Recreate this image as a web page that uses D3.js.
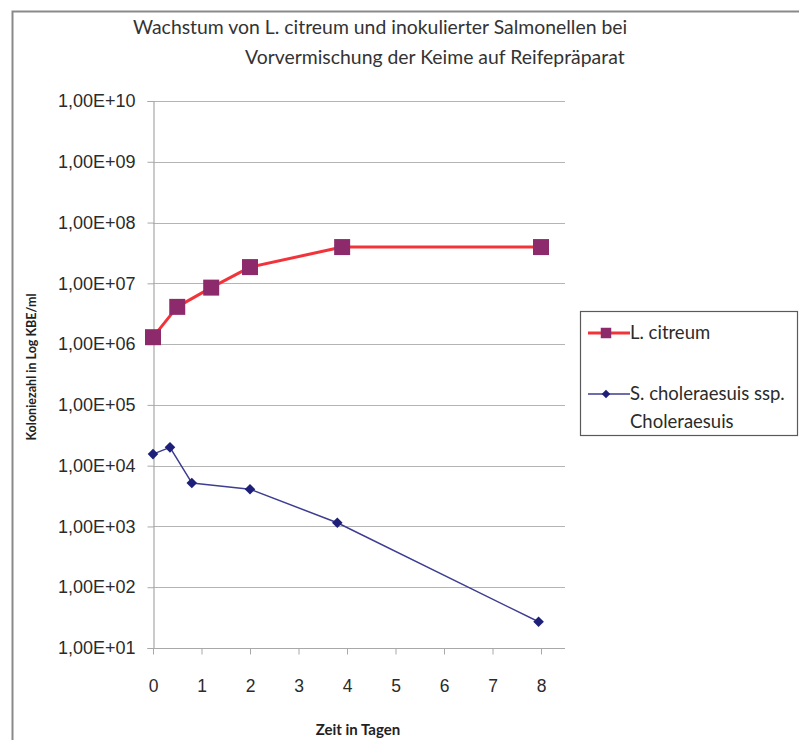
<!DOCTYPE html>
<html>
<head>
<meta charset="utf-8">
<script src="https://cdn.jsdelivr.net/npm/d3@7"></script>
<style>
  html, body { margin: 0; padding: 0; background: #fff; }
  svg { display: block; font-family: Lato, "Open Sans", sans-serif; }
</style>
</head>
<body>
<svg id="chart" width="799" height="740"></svg>
<script>
// data
const titleLines = [
    'Wachstum von L. citreum und inokulierter Salmonellen bei',
    'Vorvermischung der Keime auf Reifepräparat'
];
const citreumDays = [0, 0.5, 1.2, 2, 3.9, 8];
const citreumCfu = [1.3e6, 4.1e6, 8.5e6, 1.85e7, 3.95e7, 3.95e7];
const salmonellaDays = [0, 0.35, 0.8, 2, 3.8, 7.95];
const salmonellaCfu = [1.55e4, 2.0e4, 5.2e3, 4.1e3, 1.15e3, 27];
const xTicks = [0, 1, 2, 3, 4, 5, 6, 7, 8];
const yTicks = [1e1, 1e2, 1e3, 1e4, 1e5, 1e6, 1e7, 1e8, 1e9, 1e10];

const series = [
    { name: ['L. citreum'], days: citreumDays, values: citreumCfu,
      line: '#f2343a', lineWidth: 3, marker: 'square', fill: '#8c2a6c' },
    { name: ['S. choleraesuis ssp.', 'Choleraesuis'], days: salmonellaDays, values: salmonellaCfu,
      line: '#3d3d91', lineWidth: 1.5, marker: 'diamond', fill: '#1d1f78' }
];

const plot = { left: 153, right: 565, top: 101, bottom: 648 };
const svg = d3.select('#chart');

// outer frame (cut off at right/bottom like the screenshot)
svg.append('path')
    .attr('d', 'M12.5,740 V11.5 H799')
    .attr('fill', 'none')
    .attr('stroke', '#8a8a8a')
    .attr('stroke-width', 2);

const x = d3.scaleLinear().domain([0, 8]).range([plot.left, 541]);
const y = d3.scaleLog().domain([1e1, 1e10]).range([plot.bottom, plot.top]);

const fmt = v => `1,00E+${String(Math.round(Math.log10(v))).padStart(2, '0')}`;

// gridlines
svg.append('g')
    .selectAll('line')
    .data(yTicks.slice(1))
    .join('line')
    .attr('x1', plot.left)
    .attr('x2', plot.right)
    .attr('y1', d => Math.round(y(d)) + 0.5)
    .attr('y2', d => Math.round(y(d)) + 0.5)
    .attr('stroke', '#b4b4b4')
    .attr('stroke-width', 1.2);

const yAxe = d3.axisLeft(y)
    .tickValues(yTicks)
    .tickFormat(fmt)
    .tickSize(6)
    .tickPadding(12);

const gy = svg.append('g')
    .attr('transform', `translate(${plot.left + 0.5},0)`)
    .call(yAxe);
gy.select('.domain').attr('stroke', '#a8a8a8').attr('stroke-width', 1.2);
gy.selectAll('.tick line').attr('stroke', '#a8a8a8');
gy.selectAll('.tick text')
    .attr('fill', '#2b2b2b')
    .style('font-size', '18px');

const xAxe = d3.axisBottom(x)
    .tickValues(xTicks)
    .tickFormat(d3.format('d'))
    .tickSize(6)
    .tickPadding(25);

const gx = svg.append('g')
    .attr('transform', `translate(0,${plot.bottom + 0.5})`)
    .call(xAxe);
gx.select('.domain')
    .attr('d', `M${plot.left},0H${plot.right}`)
    .attr('stroke', '#a8a8a8')
    .attr('stroke-width', 1.2);
gx.selectAll('.tick line').attr('stroke', '#a8a8a8');
gx.selectAll('.tick text')
    .attr('fill', '#2b2b2b')
    .style('font-size', '17.5px');

// series
const line = d3.line()
    .x(d => x(d[0]))
    .y(d => y(d[1]));

// diamond = square turned by 45deg, close to the spreadsheet marker
const markerPath = (size) => d3.symbol(d3.symbolSquare, size)();
const markerTurn = type => type === 'square' ? '' : ' rotate(45)';

series.forEach(s => {
    const pts = d3.zip(s.days, s.values);
    svg.append('path')
        .datum(pts)
        .attr('d', line)
        .attr('fill', 'none')
        .attr('stroke', s.line)
        .attr('stroke-width', s.lineWidth)
        .attr('stroke-linejoin', 'round');

    svg.append('g')
        .selectAll('path')
        .data(pts)
        .join('path')
        .attr('d', markerPath(s.marker === 'square' ? 256 : 56))
        .attr('transform', d => `translate(${x(d[0])},${y(d[1])})${markerTurn(s.marker)}`)
        .attr('fill', s.fill);
});

// title
svg.append('g')
    .selectAll('text')
    .data(titleLines)
    .join('text')
    .attr('x', (d, i) => i === 0 ? 133 : 245)
    .attr('y', (d, i) => 34 + i * 30)
    .attr('fill', '#333')
    .style('font-size', '19.4px')
    .text(d => d);

// axis titles
svg.append('text')
    .attr('transform', 'translate(36,367) rotate(-90)')
    .attr('text-anchor', 'middle')
    .attr('fill', '#222')
    .style('font-size', '12.5px')
    .style('font-weight', 'bold')
    .text('Koloniezahl in  Log KBE/ml');

svg.append('text')
    .attr('x', 358)
    .attr('y', 735)
    .attr('text-anchor', 'middle')
    .attr('fill', '#222')
    .style('font-size', '15px')
    .style('font-weight', 'bold')
    .text('Zeit in Tagen');

// legend
const legend = svg.append('g');
legend.append('rect')
    .attr('x', 580.5)
    .attr('y', 311.5)
    .attr('width', 217)
    .attr('height', 124)
    .attr('fill', '#fff')
    .attr('stroke', '#5a5a5a')
    .attr('stroke-width', 1.2);

const legendRows = [333, 394];
series.forEach((s, i) => {
    const ly = legendRows[i];
    const row = legend.append('g');
    row.append('line')
        .attr('x1', 588).attr('x2', 630)
        .attr('y1', ly).attr('y2', ly)
        .attr('stroke', s.line)
        .attr('stroke-width', s.lineWidth);
    row.append('path')
        .attr('d', markerPath(s.marker === 'square' ? 110 : 36))
        .attr('transform', `translate(606,${ly})${markerTurn(s.marker)}`)
        .attr('fill', s.fill);
    row.selectAll('text')
        .data(s.name)
        .join('text')
        .attr('x', 630)
        .attr('y', (d, j) => ly + 6 + j * 28)
        .attr('fill', '#2b2b2b')
        .style('font-size', '18.5px')
        .text(d => d);
});
</script>
</body>
</html>
